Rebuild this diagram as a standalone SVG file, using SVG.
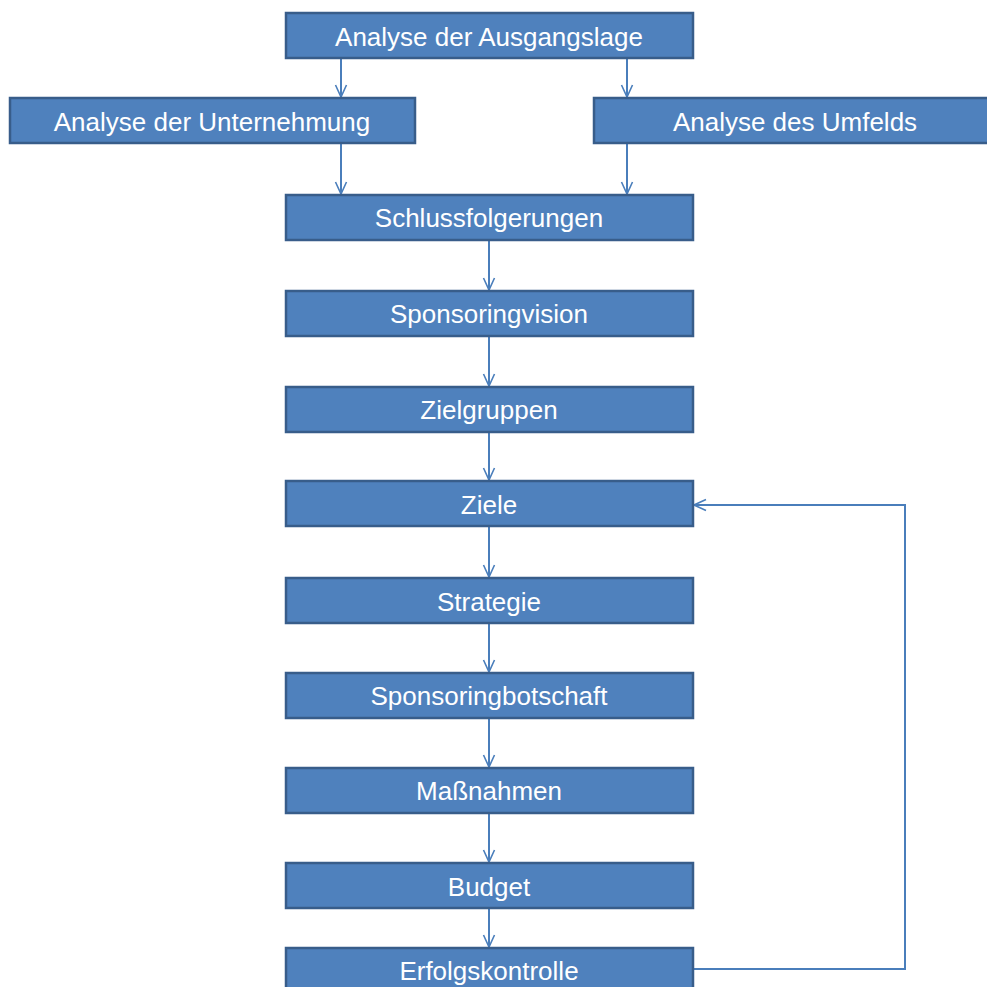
<svg xmlns="http://www.w3.org/2000/svg" width="987" height="987" viewBox="0 0 987 987">
<defs>
<style>
.box{fill:#4F81BD;stroke:#385D8A;stroke-width:2.5}
.lbl{fill:#FFFFFF;font-family:"Liberation Sans","Open Sans",sans-serif;font-size:26px;text-anchor:middle}
.con{fill:none;stroke:#4A7EBB;stroke-width:2}
</style>
<marker id="arr" viewBox="0 0 14 14" refX="13" refY="7" markerWidth="14" markerHeight="14" markerUnits="userSpaceOnUse" orient="auto">
<path d="M1,1.5 L13,7 L1,12.5" fill="none" stroke="#4A7EBB" stroke-width="1.6"/>
</marker>
</defs>
<rect width="987" height="987" fill="#FFFFFF"/>
<g id="connectors">
<line class="con" x1="341" y1="58" x2="341" y2="97" marker-end="url(#arr)"/>
<line class="con" x1="627" y1="58" x2="627" y2="97" marker-end="url(#arr)"/>
<line class="con" x1="341" y1="143" x2="341" y2="194" marker-end="url(#arr)"/>
<line class="con" x1="627" y1="143" x2="627" y2="194" marker-end="url(#arr)"/>
<line class="con" x1="489" y1="240" x2="489" y2="290" marker-end="url(#arr)"/>
<line class="con" x1="489" y1="336" x2="489" y2="386" marker-end="url(#arr)"/>
<line class="con" x1="489" y1="432" x2="489" y2="480" marker-end="url(#arr)"/>
<line class="con" x1="489" y1="526" x2="489" y2="577" marker-end="url(#arr)"/>
<line class="con" x1="489" y1="623" x2="489" y2="672" marker-end="url(#arr)"/>
<line class="con" x1="489" y1="718" x2="489" y2="767" marker-end="url(#arr)"/>
<line class="con" x1="489" y1="813" x2="489" y2="862" marker-end="url(#arr)"/>
<line class="con" x1="489" y1="908" x2="489" y2="947" marker-end="url(#arr)"/>
<polyline class="con" points="693,969 905,969 905,505 694,505" marker-end="url(#arr)"/>
</g>
<g id="n1"><rect class="box" x="286" y="13" width="407" height="45"/><text class="lbl" x="489" y="46">Analyse der Ausgangslage</text></g>
<g id="n2"><rect class="box" x="10" y="98" width="405" height="45"/><text class="lbl" x="212" y="131">Analyse der Unternehmung</text></g>
<g id="n3"><rect class="box" x="594" y="98" width="402" height="45"/><text class="lbl" x="795" y="131">Analyse des Umfelds</text></g>
<g id="n4"><rect class="box" x="286" y="195" width="407" height="45"/><text class="lbl" x="489" y="227">Schlussfolgerungen</text></g>
<g id="n5"><rect class="box" x="286" y="291" width="407" height="45"/><text class="lbl" x="489" y="323">Sponsoringvision</text></g>
<g id="n6"><rect class="box" x="286" y="387" width="407" height="45"/><text class="lbl" x="489" y="419">Zielgruppen</text></g>
<g id="n7"><rect class="box" x="286" y="481" width="407" height="45"/><text class="lbl" x="489" y="514">Ziele</text></g>
<g id="n8"><rect class="box" x="286" y="578" width="407" height="45"/><text class="lbl" x="489" y="611">Strategie</text></g>
<g id="n9"><rect class="box" x="286" y="673" width="407" height="45"/><text class="lbl" x="489" y="705">Sponsoringbotschaft</text></g>
<g id="n10"><rect class="box" x="286" y="768" width="407" height="45"/><text class="lbl" x="489" y="800">Maßnahmen</text></g>
<g id="n11"><rect class="box" x="286" y="863" width="407" height="45"/><text class="lbl" x="489" y="896">Budget</text></g>
<g id="n12"><rect class="box" x="286" y="948" width="407" height="45"/><text class="lbl" x="489" y="980">Erfolgskontrolle</text></g>
</svg>
